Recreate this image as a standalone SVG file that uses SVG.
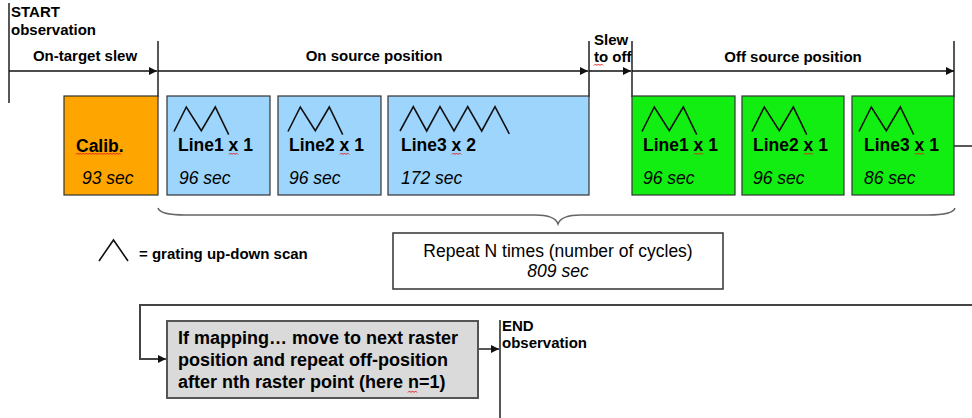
<svg xmlns="http://www.w3.org/2000/svg" width="972" height="418" viewBox="0 0 972 418">
<style>
text{font-family:"Liberation Sans",Arial,Helvetica,sans-serif;fill:#000}
.b{font-weight:bold}
.lab{font-weight:bold;font-size:15px}
.bt{font-weight:bold;font-size:17.5px}
.it{font-style:italic;font-size:17.5px}
.box{stroke:#333;stroke-width:1.2}
.cal{fill:#FFA500}
.blue{fill:#9DD5FD}
.green{fill:#12EE12}
.zz{fill:none;stroke:#111;stroke-width:1.6}
.ln{stroke:#111;stroke-width:1.4;fill:none}
.gl{stroke:#444;stroke-width:2;fill:none}
.sq{fill:none;stroke:#e02020;stroke-width:1}
</style>
<defs>
<marker id="ah" viewBox="0 0 10 10" refX="10" refY="5" markerWidth="8" markerHeight="8" markerUnits="userSpaceOnUse" orient="auto">
<path d="M0,0 L10,5 L0,10 z" fill="#111"/>
</marker>
<path id="zz2" d="M0,24.5 L12.3,0 L27.3,23.7 L41.3,0 L54.7,27.7"/>
<path id="sqx" d="M0,1.5 l1.5,-1.5 l1.5,1.5 l1.5,-1.5 l1.5,1.5 l1.5,-1.5 l1.5,1.5"/>
</defs>

<g id="connectors">
<line class="ln" x1="9" y1="3" x2="9" y2="103"/>
<line class="ln" x1="158" y1="41" x2="158" y2="97"/>
<line class="ln" x1="589" y1="41" x2="589" y2="97"/>
<line class="ln" x1="632" y1="41" x2="632" y2="97"/>
<line class="ln" x1="954" y1="41" x2="954" y2="97"/>
<line class="ln" x1="9" y1="71" x2="157" y2="71" marker-end="url(#ah)"/>
<line class="ln" x1="158" y1="71" x2="588" y2="71" marker-end="url(#ah)"/>
<line class="ln" x1="589" y1="71" x2="631" y2="71" marker-end="url(#ah)"/>
<line class="ln" x1="632" y1="71" x2="954" y2="71" marker-end="url(#ah)"/>
<line class="ln" x1="954" y1="146" x2="972" y2="146"/>
<path class="gl" d="M972,305 L140,305 L140,359 L158,359"/>
<path class="ln" d="M158,359 L166,359" marker-end="url(#ah)"/>
<line class="ln" x1="478" y1="349" x2="499" y2="349" marker-end="url(#ah)"/>
<line class="ln" x1="500" y1="320" x2="500" y2="418"/>
<path d="M158,208 Q160,215 185,215 L535,215 Q555,215 558,224 Q561,215 581,215 L928,215 Q953,215 955,208" fill="none" stroke="#666" stroke-width="1.5"/>
</g>

<g id="start">
<text class="lab" x="11" y="17">START</text>
<text class="lab" x="11" y="35">observation</text>
</g>
<g id="label-ontarget"><text class="lab" x="85" y="61" text-anchor="middle">On-target slew</text></g>
<g id="label-onsource"><text class="lab" x="374" y="61" text-anchor="middle">On source position</text></g>
<g id="label-slew">
<text class="lab" x="594" y="45">Slew</text>
<text class="lab" x="594" y="62">to off</text>
<use href="#sqx" class="sq" x="594" y="64"/>
</g>
<g id="label-offsource"><text class="lab" x="793" y="62" text-anchor="middle">Off source position</text></g>

<g id="calib">
<rect class="box cal" x="64" y="96" width="94" height="99"/>
<text class="bt" x="76" y="152">Calib.</text>
<use href="#sqx" class="sq" x="76" y="153"/><use href="#sqx" class="sq" x="85" y="153"/><use href="#sqx" class="sq" x="94" y="153"/><use href="#sqx" class="sq" x="103" y="153"/><use href="#sqx" class="sq" x="112" y="153"/>
<text class="it" x="82" y="184">93 sec</text>
</g>

<g id="on-line1">
<rect class="box blue" x="167" y="96" width="103" height="99"/>
<use href="#zz2" class="zz" x="174" y="107"/>
<text class="bt" x="178" y="151">Line1 x 1</text>
<use href="#sqx" class="sq" x="229" y="153"/>
<text class="it" x="179" y="184">96 sec</text>
</g>
<g id="on-line2">
<rect class="box blue" x="278" y="96" width="103" height="99"/>
<use href="#zz2" class="zz" x="288" y="107"/>
<text class="bt" x="289" y="151">Line2 x 1</text>
<use href="#sqx" class="sq" x="340" y="153"/>
<text class="it" x="289" y="184">96 sec</text>
</g>
<g id="on-line3">
<rect class="box blue" x="388" y="96" width="201" height="99"/>
<path class="zz" d="M400,131 L413.3,106.7 L426.7,131 L440,106.7 L454,131 L467.7,106.7 L481.7,131 L495,106.7 L509.3,134"/>
<text class="bt" x="401" y="151">Line3 x 2</text>
<use href="#sqx" class="sq" x="452" y="153"/>
<text class="it" x="401" y="184">172 sec</text>
</g>

<g id="off-line1">
<rect class="box green" x="632" y="96" width="103" height="99"/>
<use href="#zz2" class="zz" x="642" y="107"/>
<text class="bt" x="643" y="151">Line1 x 1</text>
<use href="#sqx" class="sq" x="694" y="153"/>
<text class="it" x="643" y="184">96 sec</text>
</g>
<g id="off-line2">
<rect class="box green" x="742" y="96" width="102" height="99"/>
<use href="#zz2" class="zz" x="752" y="107"/>
<text class="bt" x="753" y="151">Line2 x 1</text>
<use href="#sqx" class="sq" x="804" y="153"/>
<text class="it" x="753" y="184">96 sec</text>
</g>
<g id="off-line3">
<rect class="box green" x="852" y="96" width="102" height="99"/>
<use href="#zz2" class="zz" x="859" y="107"/>
<text class="bt" x="864" y="151">Line3 x 1</text>
<use href="#sqx" class="sq" x="915" y="153"/>
<text class="it" x="864" y="184">86 sec</text>
</g>

<g id="legend">
<path class="zz" d="M99,261 L113.5,240 L128,261"/>
<text class="b" x="139" y="259" font-size="15">= grating up-down scan</text>
</g>

<g id="repeat">
<rect x="393" y="233" width="330" height="56" fill="#fff" stroke="#333" stroke-width="1.5"/>
<text x="558" y="257" font-size="17.5" text-anchor="middle">Repeat N times (number of cycles)</text>
<text class="it" x="558" y="277" text-anchor="middle">809 sec</text>
</g>

<g id="mapping">
<rect x="167" y="321" width="311" height="77" fill="#DADADA" stroke="#555" stroke-width="2"/>
<text class="b" font-size="18" x="178" y="344">If mapping… move to next raster</text>
<text class="b" font-size="18" x="178" y="366">position and repeat off-position</text>
<text class="b" font-size="18" x="178" y="388">after nth raster point (here n=1)</text>
<use href="#sqx" class="sq" x="408" y="391"/>
</g>

<g id="end">
<text class="lab" x="502" y="331">END</text>
<text class="b" font-size="15" x="502" y="348">observation</text>
</g>
</svg>
